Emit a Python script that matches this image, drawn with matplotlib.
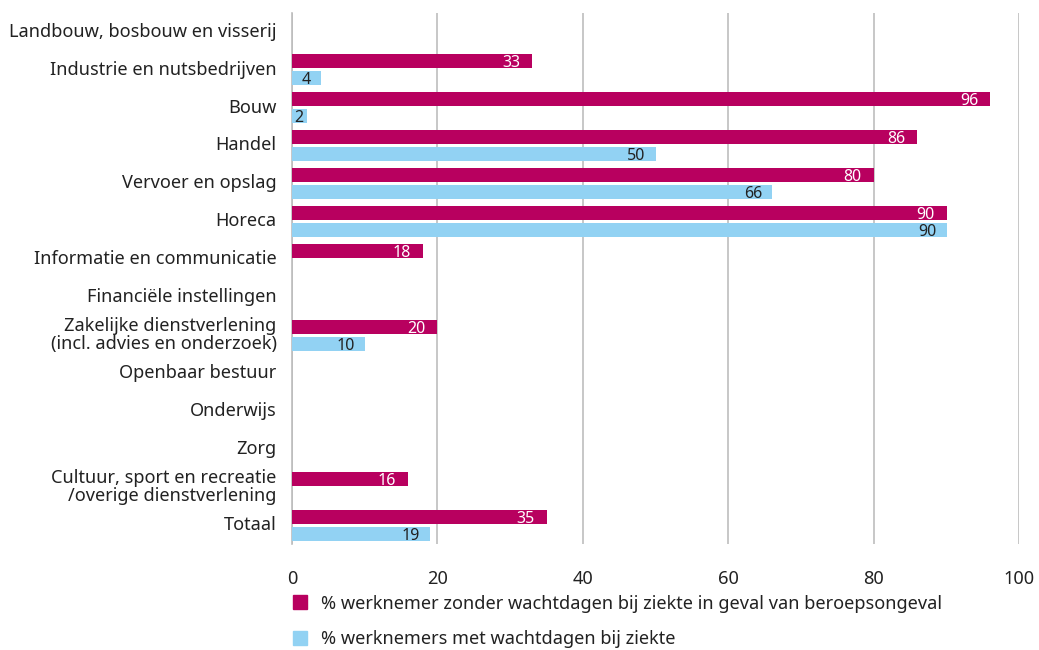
import numpy as np
import matplotlib.pyplot as plt
from matplotlib.patches import Patch

plt.rcParams['font.family'] = ['Noto Sans', 'DejaVu Sans']

sectoren = [
    "Landbouw, bosbouw en visserij",
    "Industrie en nutsbedrijven",
    "Bouw",
    "Handel",
    "Vervoer en opslag",
    "Horeca",
    "Informatie en communicatie",
    "Financiële instellingen",
    "Zakelijke dienstverlening\n(incl. advies en onderzoek)",
    "Openbaar bestuur",
    "Onderwijs",
    "Zorg",
    "Cultuur, sport en recreatie\n/overige dienstverlening",
    "Totaal",
]
# 0 = geen waarde / geen balk
zonder_wachtdagen = [0, 33, 96, 86, 80, 90, 18, 0, 20, 0, 0, 0, 16, 35]
met_wachtdagen = [0, 4, 2, 50, 66, 90, 0, 0, 10, 0, 0, 0, 0, 19]

label_zonder = "% werknemer zonder wachtdagen bij ziekte in geval van beroepsongeval"
label_met = "% werknemers met wachtdagen bij ziekte"

kleur_magenta = "#b8005f"
kleur_blauw = "#92d2f3"
tekst_kleur = "#222222"
fs = 13.1
fs_waarde = 11.5

fig = plt.figure(figsize=(10.39, 6.5), dpi=100)
ax = fig.add_axes([0.281, 0.163, 0.7, 0.817])

y = np.arange(len(sectoren))
h = 0.37
d = h / 2 + 0.04
ax.barh(y - d, zonder_wachtdagen, height=h, color=kleur_magenta, zorder=3)
ax.barh(y + d, met_wachtdagen, height=h, color=kleur_blauw, zorder=3)

# waarden in de balken
for i in range(len(sectoren)):
    v = zonder_wachtdagen[i]
    if v > 0:
        ax.annotate(str(v), (v, y[i] - d), xytext=(-12, 0),
                    textcoords="offset pixels", ha="right", va="center_baseline",
                    color="white", fontsize=fs_waarde, zorder=4)
    v = met_wachtdagen[i]
    if v > 0:
        if v < 3:
            ax.annotate(str(v), (0, y[i] + d), xytext=(2, 0),
                        textcoords="offset pixels", ha="left", va="center_baseline",
                        color=tekst_kleur, fontsize=fs_waarde, zorder=4)
        else:
            ax.annotate(str(v), (v, y[i] + d), xytext=(-10, 0),
                        textcoords="offset pixels", ha="right", va="center_baseline",
                        color=tekst_kleur, fontsize=fs_waarde, zorder=4)

ax.set_xlim(0, 100)
ax.set_ylim(len(sectoren) - 0.5, -0.5)
ax.set_xticks([0, 20, 40, 60, 80, 100])
ax.set_yticks(y - 0.06)
ax.set_yticklabels(sectoren, fontsize=fs, color=tekst_kleur, linespacing=1.0)
ax.tick_params(axis="both", length=0, labelsize=fs, colors=tekst_kleur)
ax.tick_params(axis="x", pad=19)
ax.tick_params(axis="y", pad=11)
ax.xaxis.grid(True, color="#bdbdbd", linewidth=1.2, zorder=0)
for s in ["top", "right", "bottom"]:
    ax.spines[s].set_visible(False)
ax.spines["left"].set_color("#bdbdbd")
ax.spines["left"].set_linewidth(1.2)

handles = [Patch(color=kleur_magenta, label=label_zonder),
           Patch(color=kleur_blauw, label=label_met)]
fig.legend(handles=handles, loc="upper left", bbox_to_anchor=(0.2816, 0.085),
           frameon=False, fontsize=fs, handlelength=0.8, handleheight=0.8,
           handletextpad=0.75, labelspacing=0.95, labelcolor=tekst_kleur,
           borderaxespad=0, borderpad=0)

fig.savefig("out.png", dpi=100)
